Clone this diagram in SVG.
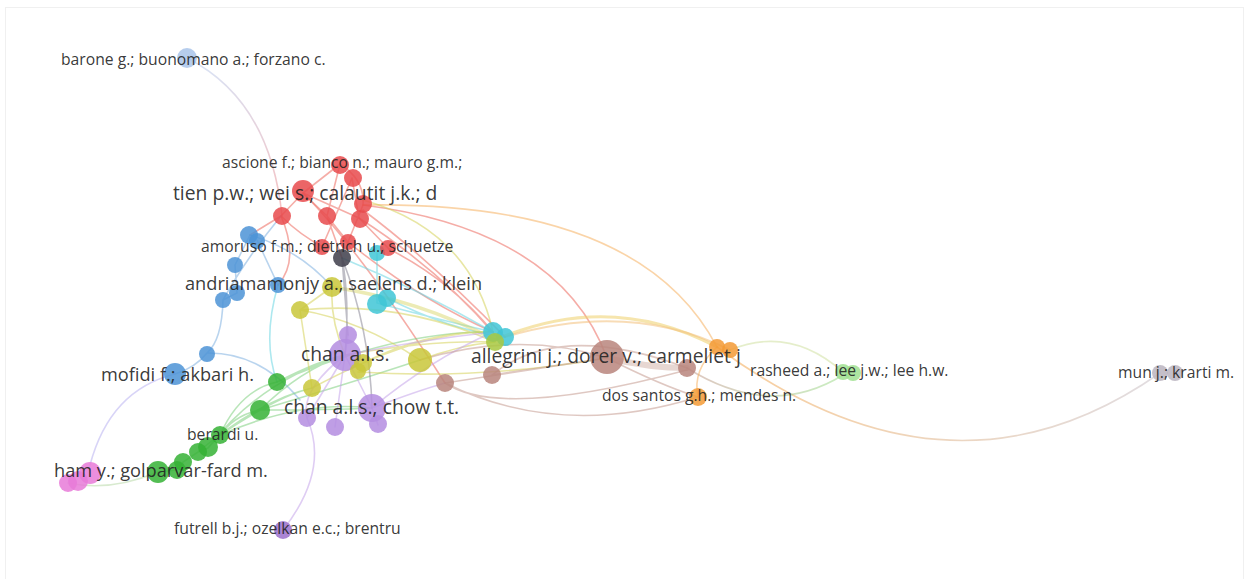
<svg xmlns="http://www.w3.org/2000/svg" width="1249" height="579" viewBox="0 0 1249 579">
<defs>
<style>
.e{fill:none;stroke-width:1.6;stroke-opacity:.55;stroke-linecap:round}
.n{fill-opacity:.85}
.t{font-family:"Open Sans","DejaVu Sans",sans-serif;fill:#222;fill-opacity:.9}
.s{font-size:15.7px}
.l{font-size:19.3px}
.m{font-size:18.2px}
.red{stroke:#ec6a5e}.blu{stroke:#7fb0e0}.yel{stroke:#d5d25a}.cya{stroke:#6ad6e2}.pur{stroke:#c4a4ea}.grn{stroke:#7fcf7f}.bro{stroke:#c49a8f}.ora{stroke:#f5b060}.drk{stroke:#8a8898}
</style>
<linearGradient id="gOG" x1="0" y1="0" x2="1" y2="0"><stop offset="0" stop-color="#f5a64a"/><stop offset="1" stop-color="#c8c0c8"/></linearGradient>
<linearGradient id="gBR" x1="0" y1="0" x2="0" y2="1"><stop offset="0" stop-color="#b8cdef"/><stop offset="1" stop-color="#f08a8a"/></linearGradient>
<linearGradient id="gBG" x1="0" y1="0" x2="1" y2="0"><stop offset="0" stop-color="#c49a8f"/><stop offset="1" stop-color="#9ddf8d"/></linearGradient>
</defs>
<rect x="5.5" y="7.5" width="1238" height="580" fill="#fff" stroke="#f0f0f0"/>
<g id="edges">
<path class="e" style="stroke:url(#gBR)" d="M187,58 Q270,100 282,216"/>
<path class="e red" d="M303,193 L281,216 M303,193 L327,216 M340,164 L303,193 M340,164 Q365,180 363,205 M352,178 L359,218 M327,216 L348,242 M281,216 Q300,235 323,247 M359,218 L389,249 M363,205 L348,242 M303,193 Q330,205 359,218 M340,164 L327,216 M281,216 L250,235 M327,216 L342,258 M352,178 L322,247"/>
<path class="e red" d="M389,249 Q450,280 493,332 M363,205 Q560,230 607,358 M359,218 Q440,270 495,335 M348,242 Q420,300 493,332 M303,193 Q360,250 445,383 M281,216 Q300,260 278,285 M363,210 Q430,260 505,337"/>
<path class="e ora" d="M363,205 Q640,200 717,347"/>
<path class="e yel" d="M363,200 Q470,230 493,332"/>
<path class="e blu" d="M250,235 L235,265 M257,240 L278,285 M235,265 L237,293 M237,293 L223,300 M223,300 Q222,340 207,353 M207,353 Q195,368 175,374 M207,353 Q260,352 300,400 M250,235 Q300,250 332,287 M281,216 Q245,260 223,300"/>
<path class="e cya" d="M278,285 Q262,340 277,382 M377,253 L377,303 M377,303 Q440,320 493,332 M342,258 Q420,290 493,332 M387,298 Q450,330 505,337"/>
<path class="e" style="stroke:#b8b0f0" d="M90,465 Q110,390 175,374"/>
<path class="e" style="stroke:#b8d8a8" d="M68,483 Q110,492 158,472"/>
<path class="e grn" d="M158,472 L177,470 L183,462 L198,452 L208,448 L220,435 M220,435 Q235,415 260,410 M220,435 Q240,390 277,382 M220,435 Q280,395 312,388 M208,448 Q260,380 345,355 M220,435 Q300,400 372,408 M260,410 Q300,370 345,355 M260,410 Q360,380 420,360 M260,410 Q330,410 372,408 M277,382 Q320,360 345,355 M277,382 Q400,330 493,332 M198,452 Q260,400 312,388"/>
<path class="e yel" d="M332,287 L300,310 M332,287 Q330,320 345,355 M300,310 L312,388 M300,310 Q360,320 420,360 M420,360 Q460,345 495,342 M312,388 Q420,330 493,332 M363,363 Q430,330 493,332 M358,372 Q480,380 607,358 M300,310 Q400,300 495,342 M345,355 Q430,340 495,342"/>
<path class="e yel" style="stroke-width:3.5;stroke-opacity:.45" d="M332,287 Q420,300 495,340"/>
<path class="e" style="stroke:#eecf6a;stroke-width:3;stroke-opacity:.55" d="M495,340 Q610,290 717,347"/>
<path class="e" style="stroke:#f3c07a;stroke-width:2;stroke-opacity:.55" d="M505,337 Q630,300 730,350"/>
<path class="e drk" d="M342,258 Q350,300 345,355 M342,258 L348,335 M342,258 Q370,330 372,408"/>
<path class="e pur" d="M345,355 L348,335 M345,355 L372,408 M345,355 L307,418 M345,355 L335,427 M372,408 L378,425 M345,355 Q420,340 493,332 M372,408 Q430,360 493,332 M307,418 Q330,470 283,530 M345,355 Q300,390 307,418 M372,408 Q420,390 445,383"/>
<path class="e bro" style="stroke-width:6;stroke-opacity:.4" d="M607,358 Q650,368 687,368"/>
<path class="e bro" d="M607,358 L445,383 M607,358 L492,375 M445,383 Q500,420 687,370 M492,375 Q560,320 687,368 M607,358 Q660,385 698,397 M445,383 Q560,440 698,397 M420,360 Q520,330 607,358"/>
<path class="e" style="stroke:url(#gOG)" d="M717,347 Q950,520 1160,373"/>
<path class="e" style="stroke:url(#gBG)" d="M687,368 Q770,420 843,375"/>
<path class="e" style="stroke:#cfe0a0" d="M730,350 Q790,325 843,372"/>
<path class="e ora" d="M717,347 Q692,370 698,397"/>
</g>
<g id="n-barone"><circle class="n" cx="187" cy="58" r="10" fill="#a9c4ea"/></g>
<g id="n-red">
<circle class="n" cx="340" cy="165" r="9" fill="#e84a4c"/>
<circle class="n" cx="353" cy="178" r="9" fill="#e84a4c"/>
<circle class="n" cx="303" cy="191" r="11" fill="#e84a4c"/>
<circle class="n" cx="363" cy="204" r="9" fill="#e84a4c"/>
<circle class="n" cx="282" cy="216" r="9" fill="#e84a4c"/>
<circle class="n" cx="327" cy="216" r="9" fill="#e84a4c"/>
<circle class="n" cx="360" cy="219" r="9" fill="#e84a4c"/>
<circle class="n" cx="348" cy="242" r="8" fill="#e84a4c"/>
<circle class="n" cx="322" cy="247" r="8" fill="#e84a4c"/>
</g>
<g id="n-blue">
<circle class="n" cx="249" cy="235" r="9" fill="#4c93d6"/>
<circle class="n" cx="257" cy="241" r="8" fill="#4c93d6"/>
<circle class="n" cx="235" cy="265" r="8" fill="#4c93d6"/>
<circle class="n" cx="278" cy="285" r="8" fill="#4c93d6"/>
<circle class="n" cx="223" cy="300" r="8" fill="#4c93d6"/>
<circle class="n" cx="237" cy="293" r="8" fill="#4c93d6"/>
<circle class="n" cx="207" cy="354" r="8" fill="#4c93d6"/>
<circle class="n" cx="175" cy="374" r="11" fill="#4c93d6"/>
</g>
<g id="n-cyan">
<circle class="n" cx="377" cy="253" r="8" fill="#40c5d6"/>
<circle class="n" cx="377" cy="304" r="10" fill="#40c5d6"/>
<circle class="n" cx="387" cy="298" r="9" fill="#40c5d6"/>
<circle class="n" cx="493" cy="332" r="10" fill="#40c5d6"/>
<circle class="n" cx="505" cy="337" r="9" fill="#40c5d6"/>
</g>
<g id="n-red2"><circle class="n" cx="388" cy="248" r="8" fill="#e84a4c"/></g>
<g id="n-dark"><circle class="n" cx="342" cy="258" r="9" fill="#3e3d4a"/></g>
<g id="n-yellow">
<circle class="n" cx="332" cy="287" r="10" fill="#c9c73a"/>
<circle class="n" cx="300" cy="310" r="9" fill="#c9c73a"/>
<circle class="n" cx="420" cy="360" r="12" fill="#c9c73a"/>
<circle class="n" cx="312" cy="388" r="9" fill="#c9c73a"/>
<circle class="n" cx="495" cy="342" r="9" fill="#a8c840"/>
</g>
<g id="n-purple">
<circle class="n" cx="348" cy="335" r="9" fill="#b48de0"/>
<circle class="n" cx="345" cy="355" r="16" fill="#b48de0"/>
<circle class="n" cx="307" cy="418" r="9" fill="#b48de0"/>
<circle class="n" cx="335" cy="427" r="9" fill="#b48de0"/>
<circle class="n" cx="378" cy="424" r="9" fill="#b48de0"/>
<circle class="n" cx="372" cy="408" r="14" fill="#b48de0"/>
</g>
<g id="n-yellow2">
<circle class="n" cx="363" cy="363" r="9" fill="#c9c73a"/>
<circle class="n" cx="358" cy="371" r="8" fill="#c9c73a"/>
</g>
<g id="n-green">
<circle class="n" cx="277" cy="382" r="9" fill="#35b135"/>
<circle class="n" cx="260" cy="410" r="10" fill="#35b135"/>
<circle class="n" cx="220" cy="435" r="9" fill="#35b135"/>
<circle class="n" cx="208" cy="447" r="10" fill="#35b135"/>
<circle class="n" cx="198" cy="452" r="9" fill="#35b135"/>
<circle class="n" cx="183" cy="462" r="9" fill="#35b135"/>
<circle class="n" cx="177" cy="470" r="9" fill="#35b135"/>
<circle class="n" cx="158" cy="472" r="11" fill="#35b135"/>
</g>
<g id="n-pink">
<circle class="n" cx="90" cy="473" r="11" fill="#e87ad8"/>
<circle class="n" cx="78" cy="481" r="10" fill="#e87ad8"/>
<circle class="n" cx="68" cy="483" r="9" fill="#e87ad8"/>
</g>
<g id="n-futrell"><circle class="n" cx="283" cy="530" r="9" fill="#9c70cc"/></g>
<g id="n-brown">
<circle class="n" cx="445" cy="383" r="9" fill="#b8857c"/>
<circle class="n" cx="492" cy="375" r="9" fill="#b8857c"/>
<circle class="n" cx="607" cy="357" r="17" fill="#b8857c"/>
<circle class="n" cx="687" cy="368" r="9" fill="#b8857c"/>
</g>
<g id="n-orange">
<circle class="n" cx="717" cy="347" r="8" fill="#f39a35"/>
<circle class="n" cx="730" cy="350" r="8" fill="#f39a35"/>
<circle class="n" cx="698" cy="397" r="9" fill="#f39a35"/>
</g>
<g id="n-lgreen">
<circle class="n" cx="843" cy="372" r="8" fill="#a0e090"/>
<circle class="n" cx="853" cy="373" r="8" fill="#a0e090"/>
</g>
<g id="n-gray">
<circle class="n" cx="1160" cy="373" r="8" fill="#bab4bf"/>
<circle class="n" cx="1175" cy="373" r="8" fill="#bab4bf"/>
</g>
<g id="labels">
<text class="t s" x="61" y="65">barone g.; buonomano a.; forzano c.</text>
<text class="t s" x="222" y="168">ascione f.; bianco n.; mauro g.m.;</text>
<text class="t l" x="173" y="200">tien p.w.; wei s.; calautit j.k.; d</text>
<text class="t s" x="201" y="252">amoruso f.m.; dietrich u.; schuetze</text>
<text class="t m" x="185" y="290">andriamamonjy a.; saelens d.; klein</text>
<text class="t l" x="301" y="361">chan a.l.s.</text>
<text class="t l" x="471" y="363">allegrini j.; dorer v.; carmeliet j</text>
<text class="t s" x="750" y="376">rasheed a.; lee j.w.; lee h.w.</text>
<text class="t s" x="1118" y="378">mun j.; krarti m.</text>
<text class="t m" x="101" y="381">mofidi f.; akbari h.</text>
<text class="t s" x="602" y="401">dos santos g.h.; mendes n.</text>
<text class="t l" x="284" y="414">chan a.l.s.; chow t.t.</text>
<text class="t s" x="187" y="440">berardi u.</text>
<text class="t m" x="54" y="477">ham y.; golparvar-fard m.</text>
<text class="t s" x="174" y="534">futrell b.j.; ozelkan e.c.; brentru</text>
</g>
</svg>
